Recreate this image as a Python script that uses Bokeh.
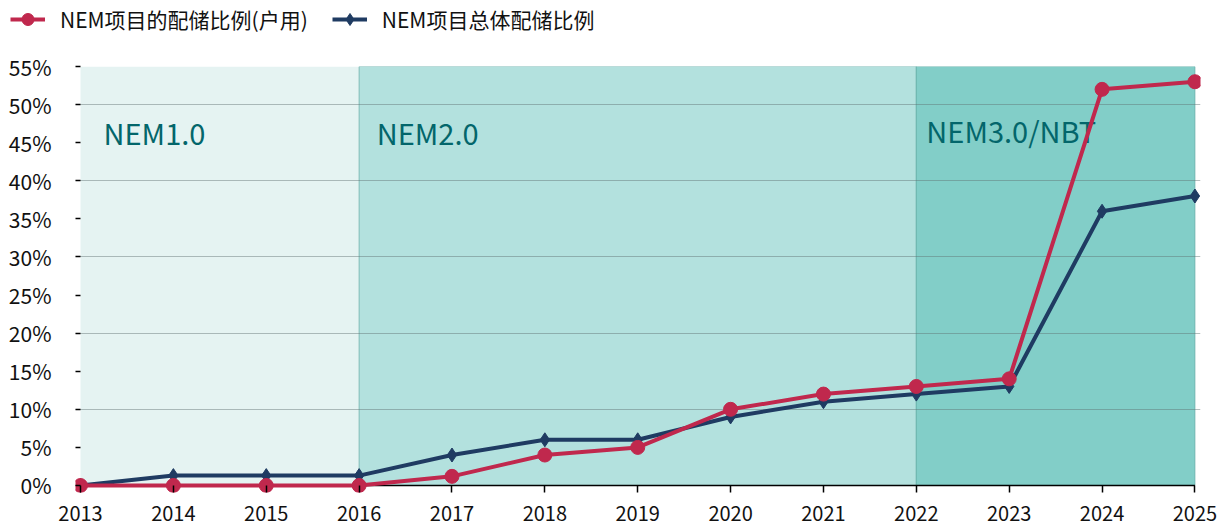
from bokeh.plotting import figure
from bokeh.layouts import column, row
from bokeh.models import (Range1d, FixedTicker, Legend, LegendItem, CustomJSTickFormatter)
from bokeh.core.properties import value
from bokeh.embed import file_html
from bokeh.resources import INLINE

years = [2013, 2014, 2015, 2016, 2017, 2018, 2019, 2020, 2021, 2022, 2023, 2024, 2025]
residential = [0, 0, 0, 0, 1.2, 4, 5, 10, 12, 13, 14, 52, 53]
overall = [0, 1.3, 1.3, 1.3, 4, 6, 6, 9, 11, 12, 13, 36, 38]
series_names = ["NEM项目的配储比例(户用)", "NEM项目总体配储比例"]

band_start = [2013, 2016, 2022]
band_end = [2016, 2022, 2025]
band_colors = ["#e5f3f2", "#b3e1de", "#82cec8"]
band_labels = ["NEM1.0", "NEM2.0", "NEM3.0/NBT"]
label_x = [2013.248, 2016.19, 2022.108]
label_y = [46.4, 46.4, 46.6]
y_max = 55

FONT = "Noto Sans CJK SC"
RED = "#c0284d"
NAVY = "#1f3b62"

# ---- legend strip (its sample glyphs sit outside the visible range) ----
lg = figure(width=1219, height=46, output_backend="svg", toolbar_location=None,
            x_axis_type=None, y_axis_type=None, x_range=Range1d(0, 1), y_range=Range1d(0, 1),
            min_border=0)
lg.outline_line_color = None
lg.xgrid.grid_line_color = None
lg.ygrid.grid_line_color = None
l1 = lg.line(years, residential, line_color=RED, line_width=4)
m1 = lg.scatter(years, residential, marker="circle", size=14, fill_color=RED, line_color=RED)
l2 = lg.line(years, overall, line_color=NAVY, line_width=4)
m2 = lg.scatter(years, overall, marker="diamond", size=14, fill_color=NAVY, line_color=NAVY)
legend = Legend(items=[LegendItem(label=series_names[0], renderers=[l1, m1]),
                       LegendItem(label=series_names[1], renderers=[l2, m2])],
                orientation="horizontal", location=(10, 12),
                label_text_font=FONT, label_text_font_size="21px", label_text_color="#111111",
                glyph_width=35, glyph_height=30, label_standoff=15, spacing=24,
                padding=0, margin=0, border_line_color=None, background_fill_alpha=0)
lg.add_layout(legend)

# ---- main chart ----
p = figure(width=1219, height=480, output_backend="svg", toolbar_location=None,
           x_range=Range1d(2012.946, 2025.06), y_range=Range1d(-0.919, y_max),
           min_border_left=75, min_border_right=19, min_border_top=20, min_border_bottom=34)
p.outline_line_color = None
p.background_fill_color = "white"

p.quad(left=band_start[:1], right=band_end[:1], bottom=0, top=y_max, fill_color=band_colors[0],
       line_color=None, level="image")
p.quad(left=band_start[1:], right=band_end[1:], bottom=0, top=y_max, fill_color=band_colors[1:],
       line_color="#5fa9a4", line_alpha=0.7, line_width=1, level="image")

p.text(x=label_x, y=label_y, text=band_labels, text_font=value(FONT), text_font_size="29px",
       text_color="#03666b", text_baseline="middle", text_align="left")

# x baseline (axis line) from first to last year
p.segment(x0=years[0], x1=years[-1], y0=0, y1=0, line_color="black", line_width=1.5)

p.line(years, overall, line_color=NAVY, line_width=4)
p.scatter(years, overall, marker="diamond", size=14, fill_color=NAVY, line_color=NAVY)
p.line(years, residential, line_color=RED, line_width=4)
p.scatter(years, residential, marker="circle", size=14, fill_color=RED, line_color=RED)

p.xaxis.ticker = FixedTicker(ticks=years)
p.xaxis.axis_line_color = None
p.xaxis.major_tick_out = 0
p.xaxis.major_tick_in = 7
p.xaxis.major_tick_line_color = "black"
p.xaxis.major_tick_line_width = 1.5
p.xaxis.minor_tick_line_color = None
p.xaxis.major_label_text_font = FONT
p.xaxis.major_label_text_font_size = "20px"
p.xaxis.major_label_text_color = "#111111"
p.xaxis.major_label_standoff = 13

p.yaxis.ticker = FixedTicker(ticks=list(range(0, 56, 5)))
p.yaxis.formatter = CustomJSTickFormatter(code="return tick + '%';")
p.yaxis.axis_line_color = None
p.yaxis.major_tick_out = 0
p.yaxis.major_tick_in = 5
p.yaxis.major_tick_line_color = "black"
p.yaxis.major_tick_line_width = 1.5
p.yaxis.minor_tick_line_color = None
p.yaxis.major_label_text_font = FONT
p.yaxis.major_label_text_font_size = "21px"
p.yaxis.major_label_text_color = "#111111"
p.yaxis.major_label_standoff = 24

p.xgrid.grid_line_color = None
p.ygrid.ticker = FixedTicker(ticks=[10, 20, 30, 40, 50])
p.ygrid.grid_line_color = "#5f7070"
p.ygrid.grid_line_alpha = 0.45
p.ygrid.grid_line_width = 1.2

layout = column(row(lg), p, spacing=0)
open("out.html", "w").write(file_html(layout, INLINE))
